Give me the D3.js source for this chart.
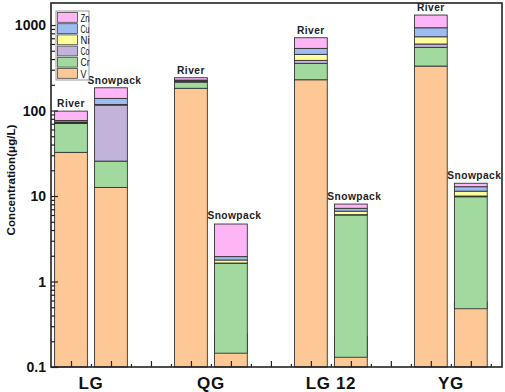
<!DOCTYPE html>
<html>
<head>
<meta charset="utf-8">
<script src="https://cdn.jsdelivr.net/npm/d3@7"></script>
<style>
  body { margin: 0; background: #fff; }
  svg text { font-family: "Liberation Sans", Arial, sans-serif; font-weight: bold; }
</style>
</head>
<body>
<div id="chart"></div>
<script>
// -------- data (µg/L, each element's own share of the stacked bar) ---------- //
var sites = ["LG", "QG", "LG 12", "YG"];
var sampleTypes = ["River", "Snowpack"];
var elements = ["V", "Cr", "Co", "Ni", "Cu", "Zn"];

// one row per bar: LG River, LG Snowpack, QG River, QG Snowpack, ...
var V  = [32.4, 12.6, 182, 0.145, 229, 0.13, 331, 0.48];
var Cr = [38, 13, 33, 1.49, 127, 5.87, 217, 9.32];
var Co = [1.5, 90, 4, 0.01, 30, 0.05, 52, 0.2];
var Ni = [1.5, 2, 4, 0.14, 68, 0.6, 129, 1.4];
var Cu = [3, 21, 4, 0.17, 79, 0.53, 200, 1.45];
var Zn = [22, 46, 15, 2.75, 177, 0.87, 380, 1.25];

var yTicks = [0.1, 1, 10, 100, 1000];

var color = d3
  .scaleOrdinal()
  .domain(elements)
  .range(["#fdc895", "#a2d99e", "#c2b3da", "#fefe9c", "#9dbdf2", "#fdb5f6"]);

// build the table for d3.stack
var series = { V: V, Cr: Cr, Co: Co, Ni: Ni, Cu: Cu, Zn: Zn };
var table = [];
sites.forEach(function(site, i) {
  sampleTypes.forEach(function(type, j) {
    var k = i * 2 + j;
    var row = { site: site, type: type, pos: i * 3 + j + 1 };
    elements.forEach(function(el) { row[el] = series[el][k]; });
    table.push(row);
  });
});

var stacked = d3.stack().keys(elements)(table);

// -------- layout ---------- //
var W = 505, H = 392;
var margin = { top: 3, right: 3, bottom: 25, left: 51 };

var svg = d3.select("#chart").append("svg")
  .attr("width", W).attr("height", H);

var x = d3.scaleLinear().domain([0.5, 11.78]).range([margin.left, W - margin.right]);
var y = d3.scaleLog().domain([0.1, 1810]).range([H - margin.bottom, margin.top]);
var barW = x(0.82) - x(0);

// bars
svg.append("g")
  .selectAll("g")
  .data(stacked)
  .join("g")
  .attr("fill", function(d) { return color(d.key); })
  .selectAll("rect")
  .data(function(d) { return d; })
  .join("rect")
  .attr("x", function(d) { return x(d.data.pos) - barW / 2; })
  .attr("width", barW)
  .attr("y", function(d) { return y(d[1] + (d[0] === 0 ? 0.1 : 0)); })
  .attr("height", function(d) {
    var lo = d[0] === 0 ? 0.1 : d[0];
    var hi = d[1] + (d[0] === 0 ? 0.1 : 0);
    return Math.max(0, y(lo) - y(hi));
  })
  .attr("stroke", "#333")
  .attr("stroke-width", 0.9);

// River / Snowpack labels on top of each bar
svg.append("g")
  .selectAll("text")
  .data(table)
  .join("text")
  .attr("x", function(d) { return x(d.pos) + (d.type === "Snowpack" ? 3.5 : 0); })
  .attr("y", function(d) {
    var tot = d3.sum(elements, function(el) { return d[el]; }) + 0.1;
    return y(tot) - 4;
  })
  .attr("text-anchor", "middle")
  .attr("font-size", 10.2)
  .attr("letter-spacing", 0.45)
  .attr("fill", "#222")
  .text(function(d) { return d.type; });

// y axis: ticks inside the frame
var yMinor = [];
d3.range(-1, 4).forEach(function(e) {
  d3.range(2, 10).forEach(function(m) {
    var v = m * Math.pow(10, e);
    if (v < 1810) yMinor.push(v);
  });
});

var yAxis = svg.append("g").attr("transform", "translate(" + margin.left + ",0)");
yAxis.call(d3.axisRight(y).tickValues(yMinor).tickSize(4).tickFormat(""));
yAxis.append("g").call(d3.axisRight(y).tickValues(yTicks).tickSize(7).tickFormat(""));
yAxis.selectAll(".domain").remove();
yAxis.selectAll("line").attr("stroke", "#222").attr("stroke-width", 1.2);

svg.append("g")
  .selectAll("text")
  .data(yTicks)
  .join("text")
  .attr("x", margin.left - 5)
  .attr("y", function(d) { return y(d) + 5; })
  .attr("text-anchor", "end")
  .attr("font-size", 14)
  .attr("fill", "#111")
  .text(function(d) { return d; });

// x axis ticks (inside, pointing up)
var xAxis = svg.append("g").attr("transform", "translate(0," + (H - margin.bottom) + ")");
xAxis.call(d3.axisTop(x).tickValues(d3.range(1, 12)).tickSize(6).tickFormat(""));
xAxis.append("g").call(d3.axisTop(x).tickValues(d3.range(1.5, 11.6, 1)).tickSize(3).tickFormat(""));
xAxis.selectAll(".domain").remove();
xAxis.selectAll("line").attr("stroke", "#222").attr("stroke-width", 1.2);

// site labels
svg.append("g")
  .selectAll("text")
  .data(sites)
  .join("text")
  .attr("x", function(d, i) { return x(i * 3 + 1.5); })
  .attr("y", H - 3)
  .attr("text-anchor", "middle")
  .attr("font-size", 17)
  .attr("letter-spacing", 0.6)
  .attr("fill", "#111")
  .text(function(d) { return d; });

// frame
svg.append("rect")
  .attr("x", margin.left).attr("y", margin.top)
  .attr("width", W - margin.right - margin.left)
  .attr("height", H - margin.bottom - margin.top)
  .attr("fill", "none")
  .attr("stroke", "#222")
  .attr("stroke-width", 1.6);

// y title
svg.append("text")
  .attr("transform", "translate(15," + 180 + ") rotate(-90)")
  .attr("text-anchor", "middle")
  .attr("font-size", 11.6)
  .attr("fill", "#111")
  .text("Concentration(μg/L)");

// legend
var legend = svg.append("g").attr("transform", "translate(56,11)");
var legendItems = elements.slice().reverse();
legend.append("rect")
  .attr("width", 33).attr("height", 69)
  .attr("fill", "#fff")
  .attr("stroke", "#999")
  .attr("stroke-width", 1);
var li = legend.selectAll("g")
  .data(legendItems)
  .join("g")
  .attr("transform", function(d, i) { return "translate(1.5," + (1.5 + i * 11.2) + ")"; });
li.append("rect")
  .attr("width", 20).attr("height", 9.8)
  .attr("fill", function(d) { return color(d); })
  .attr("stroke", "#444")
  .attr("stroke-width", 0.8);
li.append("text")
  .attr("x", 23).attr("y", 9)
  .attr("font-size", 10.5)
  .style("font-weight", "normal")
  .attr("textLength", function(d) { return d.length > 1 ? 9 : 6; })
  .attr("lengthAdjust", "spacingAndGlyphs")
  .attr("fill", "#111")
  .text(function(d) { return d; });
</script>
</body>
</html>
